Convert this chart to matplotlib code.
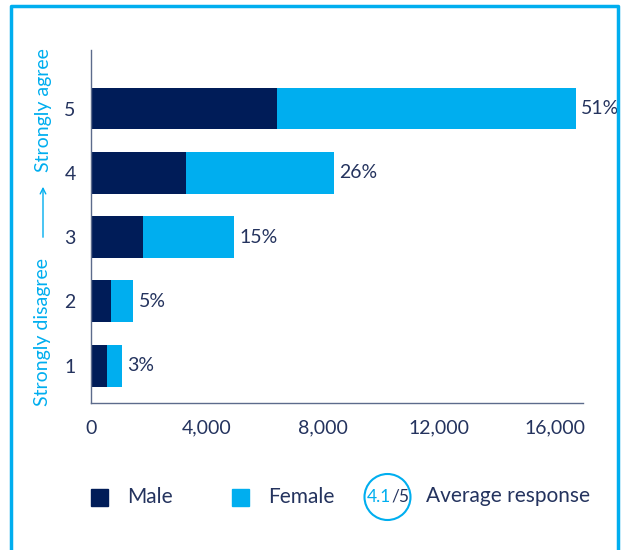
import matplotlib
matplotlib.use("Agg")
import matplotlib.pyplot as plt
from matplotlib.patches import Rectangle, Ellipse, FancyArrowPatch
from matplotlib.lines import Line2D

# data
levels = [1, 2, 3, 4, 5]
male = [550, 690, 1790, 3280, 6410]
female = [520, 760, 3140, 5100, 10310]
shares = ["3%", "5%", "15%", "26%", "51%"]
xticks = [0, 4000, 8000, 12000, 16000]
xtick_labels = ["0", "4,000", "8,000", "12,000", "16,000"]
avg_score = "4.1"

navy = "#001c58"
cyan = "#00aeef"
text_col = "#24335e"
spine_col = "#5c6b8c"

plt.rcParams['font.family'] = ['Lato', 'DejaVu Sans']

fig = plt.figure(figsize=(6.24, 5.5), dpi=100)
ax = fig.add_axes([0.1458, 0.2673, 0.7885, 0.6418])

ax.barh(levels, male, height=0.65, color=navy)
ax.barh(levels, female, left=male, height=0.65, color=cyan)

for y, m, f, s in zip(levels, male, female, shares):
    ax.annotate(s, (m + f, y), xytext=(4, 0), textcoords="offset points",
                va="center", ha="left", fontsize=14, color=text_col)

ax.set_xlim(0, 16970)
ax.set_ylim(0.42, 5.91)
ax.set_xticks(xticks)
ax.set_xticklabels(xtick_labels)
ax.set_yticks(levels)
ax.tick_params(length=0, labelsize=14, labelcolor=text_col)
ax.tick_params(axis="x", pad=12)
ax.tick_params(axis="y", pad=11)
for side in ["top", "right"]:
    ax.spines[side].set_visible(False)
for side in ["left", "bottom"]:
    ax.spines[side].set_color(spine_col)
    ax.spines[side].set_linewidth(1)

# axis description on the left
fig.text(43 / 624, 1 - 110 / 550, "Strongly agree", rotation=90, ha="center", va="center",
         color=cyan, fontsize=14)
fig.text(43 / 624, 1 - 332 / 550, "Strongly disagree", rotation=90, ha="center", va="center",
         color=cyan, fontsize=14)
fig.add_artist(FancyArrowPatch(
    (43 / 624, 1 - 240 / 550), (43 / 624, 1 - 184 / 550), transform=fig.transFigure,
    arrowstyle="->", mutation_scale=10, color=cyan, lw=1))

# legend row
ly = 1 - 497 / 550
fig.add_artist(Rectangle((91 / 624, ly - 8.5 / 550), 17 / 624, 17 / 550,
                         transform=fig.transFigure, color=navy))
fig.text(127 / 624, ly, "Male", va="center", ha="left", fontsize=15, color=text_col)
fig.add_artist(Rectangle((232 / 624, ly - 8.5 / 550), 17 / 624, 17 / 550,
                         transform=fig.transFigure, color=cyan))
fig.text(268 / 624, ly, "Female", va="center", ha="left", fontsize=15, color=text_col)
fig.add_artist(Ellipse((387.5 / 624, ly), 46 / 624, 46 / 550, transform=fig.transFigure,
                       fill=False, edgecolor=cyan, lw=1.5))
fig.text(391 / 624, ly, avg_score, va="center", ha="right", fontsize=12.5, color=cyan)
fig.text(391 / 624, ly, "/5", va="center", ha="left", fontsize=12.5, color=text_col)
fig.text(426 / 624, ly + 1 / 550, "Average response", va="center", ha="left", fontsize=15,
         color=text_col)

# outer frame (open at the bottom)
fx = [11 / 624, 11 / 624, 618 / 624, 618 / 624]
fy = [0, 1 - 6 / 550, 1 - 6 / 550, 0]
fig.add_artist(Line2D(fx, fy, transform=fig.transFigure, color=cyan, lw=2.5))

fig.savefig("out.png", dpi=100)
